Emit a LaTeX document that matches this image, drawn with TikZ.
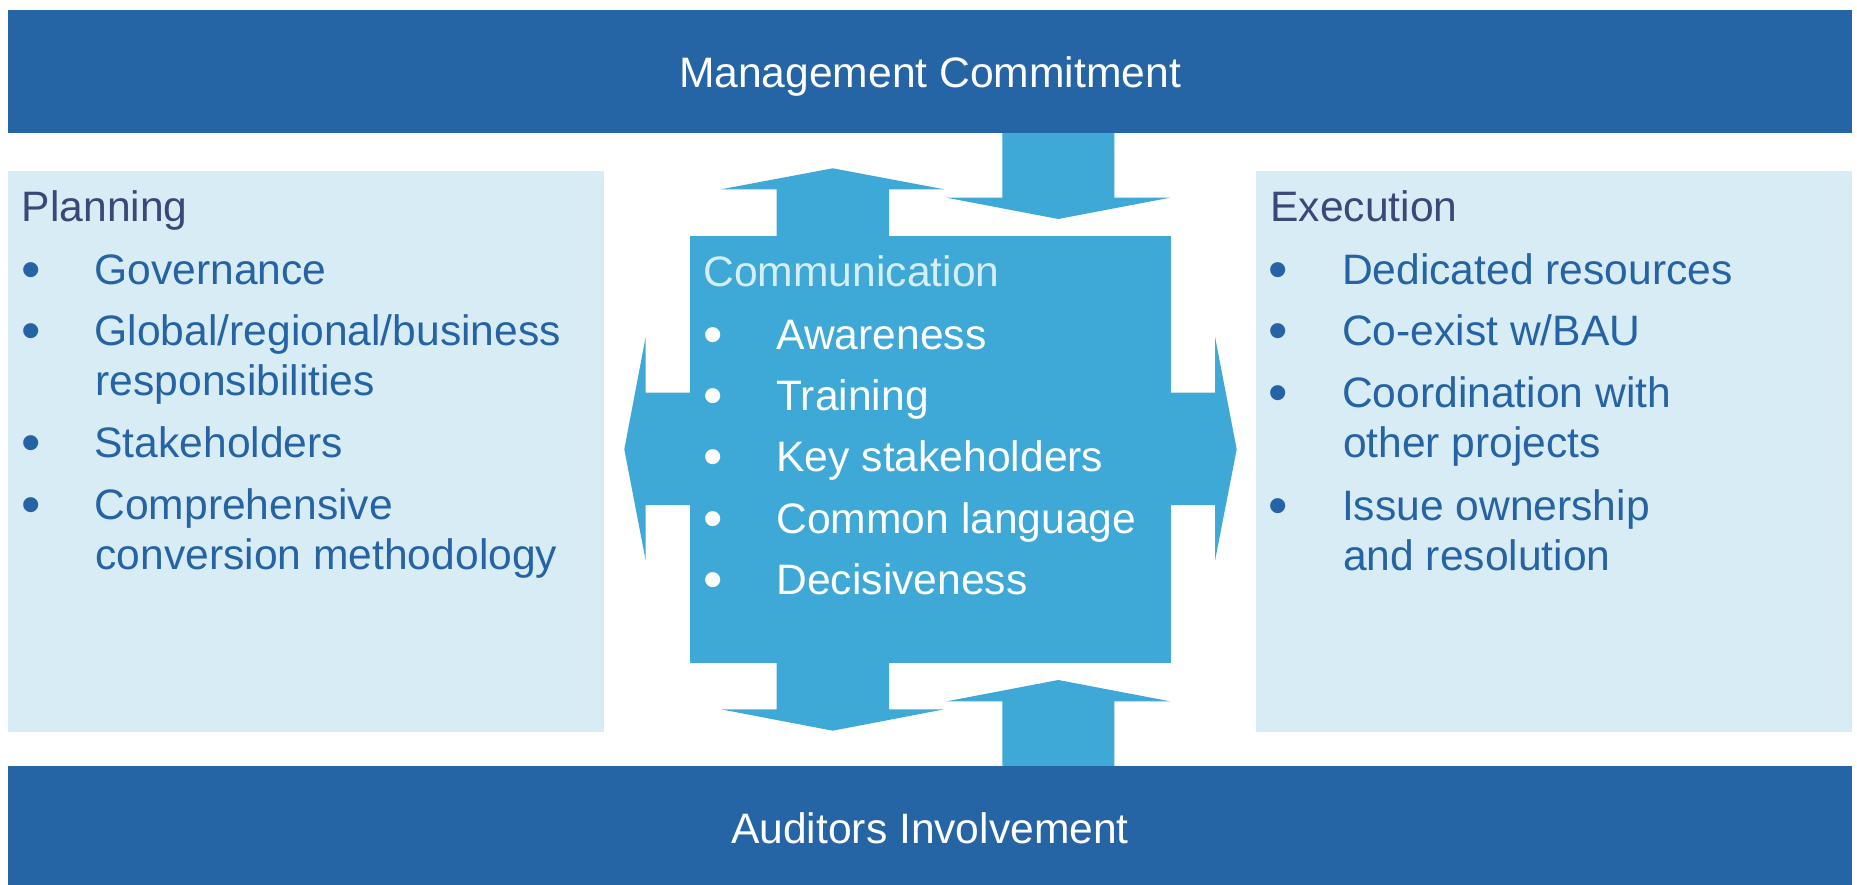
\documentclass[tikz,border=0pt]{standalone}
\usepackage{fontspec}
\setmainfont{Liberation Sans}
\definecolor{barblue}{RGB}{37,101,165}
\definecolor{panelblue}{RGB}{215,236,245}
\definecolor{midblue}{RGB}{62,168,214}
\definecolor{headtext}{RGB}{58,72,120}
\definecolor{itemtext}{RGB}{38,99,165}
\definecolor{commhead}{RGB}{214,238,248}
% list entry: an enlarged bullet in a fixed-width slot, then the text
\newcommand\bulletitem[1]{\makebox[71pt][l]{\kern-2.2pt\raisebox{-4.6pt}{\scalebox{1.3}{•}}}#1}
\begin{document}
\begin{tikzpicture}[x=1pt,y=-1pt,
  block/.style={inner sep=0pt, outer sep=0pt, anchor=north west},
  bar/.style={block, fill=barblue, minimum width=1844pt},
  panel/.style={block, fill=panelblue, minimum width=596pt, minimum height=560.5pt},
  hub/.style={block, fill=midblue, minimum width=481pt, minimum height=426.7pt},
  txt/.style={inner sep=0pt, outer sep=0pt, anchor=base west,
    font=\fontsize{42.6pt}{50pt}\selectfont},
  bartxt/.style={txt, anchor=base, text=white},
  paneltitle/.style={txt, text=headtext},
  panelitem/.style={txt, text=itemtext},
  hubtitle/.style={txt, text=commhead},
  hubitem/.style={txt, text=white},
  blockarrow/.style={fill=midblue}
]
\useasboundingbox (0,0) rectangle (1857,885);

% side panels and central hub
\node[panel] (plan) at (8,171) {};
\node[panel] (exec) at (1256,171) {};
\node[hub] (comm) at (690,236) {};

% block arrows around the hub
\fill[blockarrow] (776.7,237) -- (776.7,189.3) -- (721,189.3) -- (832.7,168.3)
  -- (944.3,189.3) -- (889,189.3) -- (889,237) -- cycle;
\fill[blockarrow] (1002.3,128) -- (1002.3,197.7) -- (946.7,197.7) -- (1058.3,219)
  -- (1170,197.7) -- (1114.3,197.7) -- (1114.3,128) -- cycle;
\fill[blockarrow] (776.7,662) -- (776.7,709.3) -- (721,709.3) -- (832.7,730.7)
  -- (944.3,709.3) -- (889,709.3) -- (889,662) -- cycle;
\fill[blockarrow] (1002.3,770) -- (1002.3,701.3) -- (946.7,701.3) -- (1058.3,680)
  -- (1170,701.3) -- (1114.3,701.3) -- (1114.3,770) -- cycle;
\fill[blockarrow] (691,392.7) -- (645.7,392.7) -- (645.7,336.7) -- (624.3,449.3)
  -- (645.7,560.7) -- (645.7,505) -- (691,505) -- cycle;
\fill[blockarrow] (1170,392.7) -- (1215,392.7) -- (1215,336.7) -- (1236.7,449.3)
  -- (1215,560.7) -- (1215,505) -- (1170,505) -- cycle;

% top and bottom bars
\node[bar, minimum height=122.7pt] (mgmt) at (8,10) {};
\node[bar, minimum height=119pt] (aud) at (8,766) {};
\node[bartxt] (mgmtlabel) at (930,88) {Management Commitment};
\node[bartxt] (audlabel) at (930,843) {Auditors Involvement};

% Planning
\node[paneltitle] (plantitle) at (21.8,222) {Planning};
\node[panelitem] (p1) at (23.5,284) {\bulletitem{Governance}};
\node[panelitem] (p2) at (23.5,345) {\bulletitem{Global/regional/business}};
\node[panelitem] (p2b) at (95.5,395) {responsibilities};
\node[panelitem] (p3) at (23.5,457) {\bulletitem{Stakeholders}};
\node[panelitem] (p4) at (23.5,519) {\bulletitem{Comprehensive}};
\node[panelitem] (p4b) at (95.5,569) {conversion methodology};

% Communication
\node[hubtitle] (commtitle) at (703.5,287) {Communication};
\node[hubitem] (c1) at (705.5,349) {\bulletitem{Awareness}};
\node[hubitem] (c2) at (705.5,410) {\bulletitem{Training}};
\node[hubitem] (c3) at (705.5,471) {\bulletitem{Key stakeholders}};
\node[hubitem] (c4) at (705.5,533) {\bulletitem{Common language}};
\node[hubitem] (c5) at (705.5,594) {\bulletitem{Decisiveness}};

% Execution
\node[paneltitle] (exectitle) at (1270.5,222) {Execution};
\node[panelitem] (e1) at (1271,284) {\bulletitem{Dedicated resources}};
\node[panelitem] (e2) at (1271,345) {\bulletitem{Co-exist w/BAU}};
\node[panelitem] (e3) at (1271,407) {\bulletitem{Coordination with}};
\node[panelitem] (e3b) at (1343,457) {other projects};
\node[panelitem] (e4) at (1271,520) {\bulletitem{Issue ownership}};
\node[panelitem] (e4b) at (1343,570) {and resolution};
\end{tikzpicture}
\end{document}
